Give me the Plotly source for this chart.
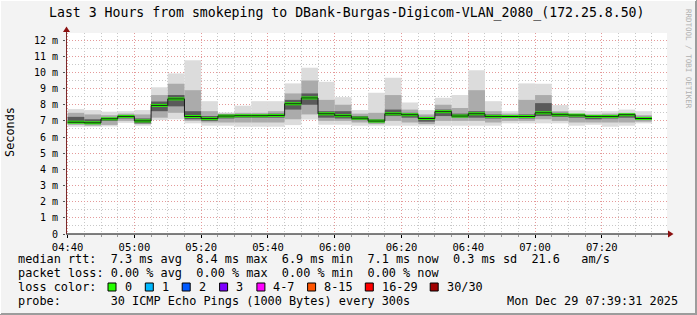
import plotly.graph_objects as go

# ---------------- data ----------------
bin_start = ["04:40", "04:45", "04:50", "04:55", "05:00", "05:05", "05:10", "05:15",
             "05:20", "05:25", "05:30", "05:35", "05:40", "05:45", "05:50", "05:55",
             "06:00", "06:05", "06:10", "06:15", "06:20", "06:25", "06:30", "06:35",
             "06:40", "06:45", "06:50", "06:55", "07:00", "07:05", "07:10", "07:15",
             "07:20", "07:25", "07:30"]

median_ms = [6.92, 6.88, 7.13, 7.28, 7.00, 7.96, 8.36, 7.27, 7.14, 7.30,
             7.32, 7.32, 7.34, 8.06, 8.42, 7.44, 7.32, 7.17, 6.99, 7.44,
             7.38, 7.15, 7.57, 7.30, 7.44, 7.28, 7.27, 7.27, 7.50, 7.38,
             7.36, 7.28, 7.28, 7.38, 7.15]

smoke_min = [6.64, 6.64, 6.66, 6.88, 6.70, 7.05, 7.10, 6.85, 6.70, 6.70,
             6.64, 6.64, 6.64, 6.74, 7.09, 6.76, 6.76, 6.70, 6.70, 6.70,
             6.70, 6.70, 6.70, 6.70, 6.70, 6.70, 6.85, 6.85, 6.85, 6.85,
             6.70, 6.76, 6.64, 6.70, 6.85]
smoke_max = [7.73, 7.67, 7.57, 7.60, 7.67, 9.08, 9.94, 10.76, 8.22, 7.52,
             7.94, 8.22, 8.22, 9.32, 10.29, 9.42, 8.47, 7.67, 8.74, 9.67,
             8.14, 7.67, 8.43, 8.60, 10.14, 8.22, 7.60, 9.32, 9.30, 7.98,
             7.65, 7.60, 7.60, 7.70, 7.60]
mid_lo = [6.75, 6.70, 6.75, 7.00, 6.80, 7.20, 7.50, 7.00, 6.90, 6.90,
          6.90, 6.90, 6.90, 7.10, 7.40, 7.00, 7.00, 6.90, 6.80, 7.00,
          6.90, 6.80, 7.00, 7.00, 7.00, 6.90, 7.00, 7.00, 7.10, 7.00,
          6.90, 6.90, 6.90, 6.90, 6.95]
mid_hi = [7.50, 7.40, 7.35, 7.45, 7.40, 8.60, 9.30, 8.90, 7.60, 7.45,
          7.50, 7.50, 7.60, 8.70, 9.50, 8.30, 8.00, 7.45, 7.50, 8.60,
          7.70, 7.40, 8.00, 7.80, 8.90, 7.60, 7.45, 8.30, 8.60, 7.60,
          7.45, 7.40, 7.45, 7.50, 7.35]
core_lo = [6.85, 6.80, 7.00, 7.15, 6.85, 7.60, 7.90, 7.10, 7.00, 7.15,
           7.20, 7.20, 7.20, 7.70, 8.00, 7.20, 7.15, 7.05, 6.90, 7.30,
           7.20, 6.95, 7.30, 7.20, 7.20, 7.15, 7.20, 7.15, 7.30, 7.25,
           7.20, 7.10, 7.15, 7.20, 7.05]
core_hi = [7.25, 7.10, 7.20, 7.35, 7.15, 8.20, 8.60, 7.60, 7.30, 7.40,
           7.40, 7.40, 7.45, 8.30, 8.70, 7.60, 7.60, 7.30, 7.10, 7.70,
           7.50, 7.25, 7.70, 7.45, 7.60, 7.40, 7.35, 7.40, 8.10, 7.50,
           7.40, 7.35, 7.35, 7.45, 7.25]

y_tickvals = list(range(0, 13))
y_ticktext = ["0"] + [f"{v} m" for v in range(1, 13)]

title_text = "Last 3 Hours from smokeping to DBank-Burgas-Digicom-VLAN_2080_(172.25.8.50)"
legend_rtt = "median rtt:  7.3 ms avg  8.4 ms max  6.9 ms min  7.1 ms now  0.3 ms sd  21.6   am/s"
legend_loss = "packet loss: 0.00 % avg  0.00 % max  0.00 % min  0.00 % now"
legend_probe = "probe:       30 ICMP Echo Pings (1000 Bytes) every 300s"
legend_date = "Mon Dec 29 07:39:31 2025"
loss_labels = ["0", "1", "2", "3", "4-7", "8-15", "16-29", "30/30"]
loss_colors = ["#26ff00", "#00b8ff", "#0059ff", "#7e00ff", "#ff00ff", "#ff5500", "#ff0000", "#a00000"]

DAY = "2025-12-29 "
# ---------------- layout geometry (pixels) ----------------
W, H = 697, 315
L, R, T, B = 66, 667, 33, 234
PW, PH = R - L, B - T
Y_TOP = 12.44


def fx(px):
    return (px - L) / PW


def fy(py):
    return (B - py) / PH


x_centers = [DAY + t + ":00" for t in bin_start]
BIN_MS = 300000
# bars are centred half a bin after their start
from datetime import datetime, timedelta
xc = [(datetime.strptime(s, "%Y-%m-%d %H:%M:%S") + timedelta(minutes=2.5)).strftime("%Y-%m-%d %H:%M:%S")
      for s in x_centers]

fig = go.Figure()


def band(lo, hi, color):
    fig.add_trace(go.Bar(
        x=xc, base=lo, y=[h - l for l, h in zip(lo, hi)], width=BIN_MS,
        marker=dict(color=color, line=dict(width=0)), hoverinfo="skip", showlegend=False))


band(smoke_min, smoke_max, "#dcdcdc")
band(mid_lo, mid_hi, "#ababab")
band(core_lo, core_hi, "#5a5a5a")

# thin dark step line of the median
step_x = x_centers + [(datetime.strptime(x_centers[-1], "%Y-%m-%d %H:%M:%S") + timedelta(minutes=5)).strftime("%Y-%m-%d %H:%M:%S")]
step_y = median_ms + [median_ms[-1]]
fig.add_trace(go.Scatter(x=step_x, y=step_y, mode="lines", line=dict(shape="hv", color="#1a1a1a", width=1),
                         hoverinfo="skip", showlegend=False))
# green median marks
fig.add_trace(go.Bar(
    x=xc, base=[m - 0.09 for m in median_ms], y=[0.18] * len(median_ms), width=BIN_MS,
    marker=dict(color="#26ff00", line=dict(width=0)), hoverinfo="skip", showlegend=False))

mono = "DejaVu Sans Mono"
fig.update_layout(
    width=W, height=H,
    margin=dict(l=L, r=W - R, t=T, b=H - B, pad=0),
    paper_bgcolor="#f3f3f3", plot_bgcolor="#ffffff",
    barmode="overlay", showlegend=False,
    font=dict(family=mono, color="#000000"),
)
fig.update_xaxes(
    type="date", range=[DAY + "04:39:31", DAY + "07:39:31"],
    tickformat="%H:%M", dtick=20 * 60 * 1000, tick0=DAY + "04:40:00",
    showgrid=True, gridcolor="#e49a9a", griddash="1px,2px", gridwidth=1,
    minor=dict(dtick=5 * 60 * 1000, tick0=DAY + "04:40:00", showgrid=True, gridcolor="#c8c8c8",
               griddash="1px,2px", ticks="outside", ticklen=2, tickcolor="#999999"),
    ticks="outside", ticklen=3, tickcolor="#000000",
    tickfont=dict(family=mono, size=10.5, color="#000000"),
    showline=False, zeroline=False, fixedrange=True,
)
fig.update_yaxes(
    range=[0, Y_TOP], tickvals=y_tickvals, ticktext=y_ticktext,
    showgrid=True, gridcolor="#e49a9a", griddash="1px,2px", gridwidth=1,
    minor=dict(dtick=0.5, showgrid=True, gridcolor="#c8c8c8", griddash="1px,2px"),
    ticks="outside", ticklen=2, tickcolor="#555555",
    tickfont=dict(family=mono, size=10, color="#000000"),
    showline=False, zeroline=False, fixedrange=True, ticklabelstandoff=3,
)

shapes = []
# axes with arrows
shapes.append(dict(type="line", xref="paper", yref="paper", x0=fx(L), x1=fx(669), y0=fy(B), y1=fy(B),
                   line=dict(color="#000000", width=1)))
shapes.append(dict(type="line", xref="paper", yref="paper", x0=fx(L + 0.5), x1=fx(L + 0.5), y0=fy(B), y1=fy(30),
                   line=dict(color="#7a2a2a", width=1)))
shapes.append(dict(type="path", xref="paper", yref="paper",
                   path=f"M {fx(668)} {fy(B - 3.5)} L {fx(673.5)} {fy(B)} L {fx(668)} {fy(B + 3.5)} Z",
                   fillcolor="#8b1010", line=dict(width=0)))
shapes.append(dict(type="path", xref="paper", yref="paper",
                   path=f"M {fx(L - 3)} {fy(32)} L {fx(L + 0.5)} {fy(26.5)} L {fx(L + 4)} {fy(32)} Z",
                   fillcolor="#8b1010", line=dict(width=0)))
# frame shadow
shapes.append(dict(type="line", xref="paper", yref="paper", x0=fx(696), x1=fx(696), y0=fy(0), y1=fy(315),
                   line=dict(color="#9c9c9c", width=2)))
shapes.append(dict(type="line", xref="paper", yref="paper", x0=fx(0), x1=fx(697), y0=fy(314), y1=fy(314),
                   line=dict(color="#9c9c9c", width=2)))
shapes.append(dict(type="line", xref="paper", yref="paper", x0=fx(0.5), x1=fx(0.5), y0=fy(0), y1=fy(314),
                   line=dict(color="#ffffff", width=1)))
shapes.append(dict(type="line", xref="paper", yref="paper", x0=fx(0), x1=fx(696), y0=fy(0.5), y1=fy(0.5),
                   line=dict(color="#ffffff", width=1)))

LEG = 11.85
annots = []


def txt(s, px, py, size=LEG, anchor="left", color="#000000", angle=0):
    annots.append(dict(text=s.replace(" ", "\u00a0"), xref="paper", yref="paper", x=fx(px), y=fy(py),
                       xanchor=anchor, yanchor="middle", showarrow=False, textangle=angle,
                       font=dict(family=mono, size=size, color=color)))


txt(title_text, 346.5, 13, size=13.2, anchor="center")
txt("Seconds", 10, 132, size=LEG, anchor="center", angle=-90)
txt("RRDTOOL / TOBI OETIKER", 688, 59, size=7.5, anchor="center", color="#b0b0b0", angle=90)
txt(legend_rtt, 16, 258.5)
txt(legend_loss, 16, 272.5)
txt("loss color:", 16, 287)
box_x = [108, 145.3, 182.2, 219.6, 256.9, 307.6, 365.3, 430.2]
lab_x = [123, 160, 197, 234, 271, 322, 380, 445]
for bx, lx, lab, col in zip(box_x, lab_x, loss_labels, loss_colors):
    shapes.append(dict(type="rect", xref="paper", yref="paper", x0=fx(bx), x1=fx(bx + 8),
                       y0=fy(283), y1=fy(291), fillcolor=col, line=dict(color="#000000", width=1)))
    txt(lab, lx, 287)
txt(legend_probe, 16, 301)
txt(legend_date, 680, 301, anchor="right")

fig.update_layout(shapes=shapes, annotations=annots)
fig.write_html("out.html")
